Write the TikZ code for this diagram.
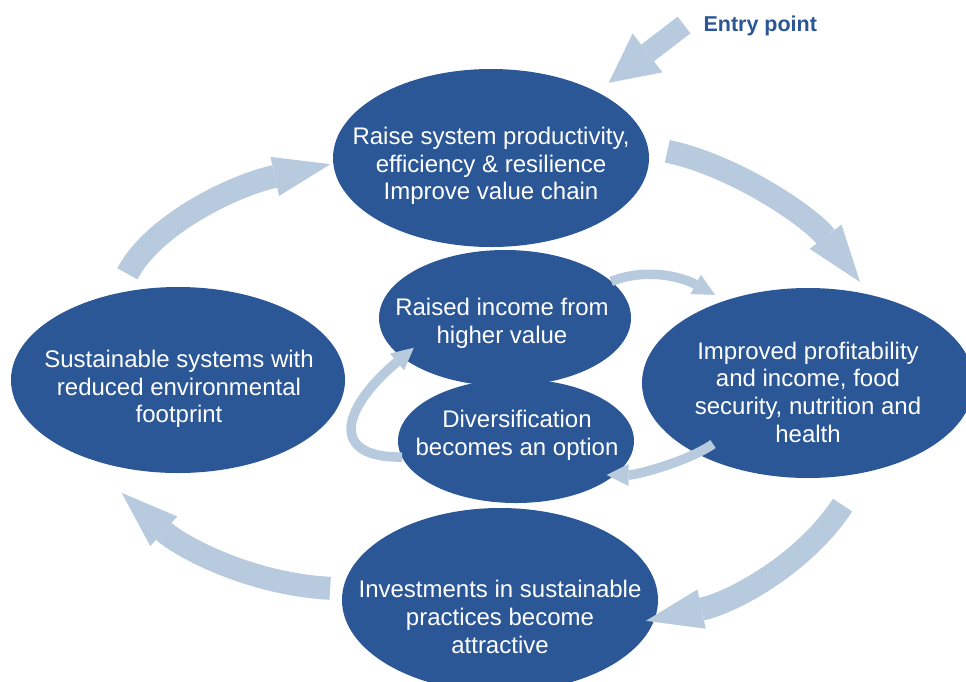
\documentclass[tikz,border=0pt]{standalone}
\usepackage{fontspec}
\setmainfont{Liberation Sans}
\usetikzlibrary{shapes.geometric,arrows.meta}
\definecolor{cycleblue}{RGB}{43,87,151}
\definecolor{flowblue}{RGB}{184,202,222}
\begin{document}
\begin{tikzpicture}[x=1pt,y=-1pt,
	blob/.style={ellipse,fill=cycleblue,inner sep=0pt,outer sep=0pt},
	txt/.style={text=white,align=center,font=\fontsize{24}{27.7}\selectfont},
	bigflow/.style={draw=flowblue,line width=23pt,-{Triangle[width=40pt,length=57pt,line width=0pt]}},
	smallflow/.style={draw=flowblue,line width=9.5pt,-{Triangle[width=22pt,length=22pt,line width=0pt]}}]
	\useasboundingbox (0,0) rectangle (966,681);
	% the six stages
	\node[blob,minimum width=316pt,minimum height=178pt] (prod) at (491,158) {};
	\node[blob,minimum width=332pt,minimum height=190pt] (profit) at (808,383) {};
	\node[blob,minimum width=316pt,minimum height=184pt] (invest) at (500,600) {};
	\node[blob,minimum width=334pt,minimum height=186pt] (sust) at (178,380) {};
	\node[blob,minimum width=236pt,minimum height=124pt] (divers) at (516,441) {};
	\node[blob,minimum width=252pt,minimum height=136pt] (income) at (505,318) {};
	\node[txt] (prodtext) at (491,166) {Raise system productivity,\\efficiency \& resilience\\Improve value chain};
	\node[txt] (profittext) at (808,392) {Improved profitability\\and income, food\\security, nutrition and\\health};
	\node[txt] (investtext) at (500,617) {Investments in sustainable\\practices become\\attractive};
	\node[txt] (susttext) at (179,389) {Sustainable systems with\\reduced environmental\\footprint};
	\node[txt] (diverstext) at (517,435) {Diversification\\becomes an option};
	\node[txt] (incometext) at (502,323) {Raised income from\\higher value};
	% entry
	\coordinate (entry) at (684,25);
	\node[anchor=base west,text=cycleblue,font=\fontsize{21.5}{24}\selectfont\bfseries] (entrylabel) at (700,31) {Entry point};
	\draw[draw=flowblue,line width=21pt,-{Triangle[width=49pt,length=49pt,line width=0pt]},shorten >=15pt] (entry) -- (prod.32);
	% outer cycle
	\draw[bigflow,shorten <=20pt,shorten >=16pt] (prod.4) .. controls (736.6,166) and (811.6,218.3) .. (profit.55);
	\draw[bigflow,shorten <=39pt,shorten >=-9pt] (profit.-58) .. controls (804.4,563.4) and (732.8,602.5) .. (invest.-7);
	\draw[bigflow,shorten <=13pt,shorten >=55pt] (invest.176) .. controls (250.1,584) and (181,547) .. (sust.218);
	\draw[bigflow,shorten <=22pt,shorten >=3pt] (sust.125) .. controls (152.5,225.2) and (232.2,185.8) .. (prod.182);
	% inner loop
	\draw[smallflow,shorten >=12pt] (income.19) .. controls (645,268) and (680,276) .. (profit.135);
	\draw[smallflow,shorten <=-18pt,shorten >=-8pt] (profit.213) .. controls (688.4,461.1) and (637,475) .. (divers.-19);
	\draw[smallflow,shorten >=-15pt] (divers.188) .. controls (330,458) and (340,410) .. (income.201);
\end{tikzpicture}
\end{document}
